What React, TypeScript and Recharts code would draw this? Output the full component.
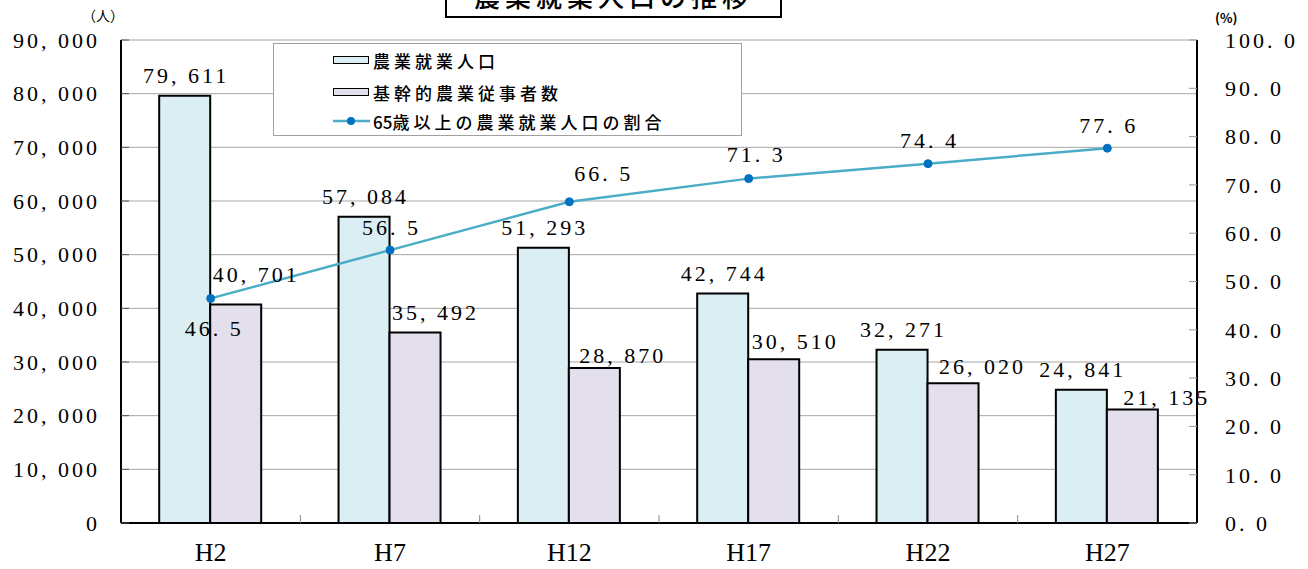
import React from "react";
import {
  ComposedChart,
  Bar,
  Line,
  XAxis,
  YAxis,
  CartesianGrid,
  LabelList,
  Legend,
} from "recharts";

const categories = ["H2", "H7", "H12", "H17", "H22", "H27"];
const farmWorkers = [79611, 57084, 51293, 42744, 32271, 24841];
const coreFarmers = [40701, 35492, 28870, 30510, 26020, 21135];
const elderlyShare = [46.5, 56.5, 66.5, 71.3, 74.4, 77.6];
const leftTicks = [0, 10000, 20000, 30000, 40000, 50000, 60000, 70000, 80000, 90000];
const rightTicks = [0, 10, 20, 30, 40, 50, 60, 70, 80, 90, 100];

const seriesNames = ["農業就業人口", "基幹的農業従事者数", "65歳以上の農業就業人口の割合"];

// label placement nudges (style only): [dx, dy]
const coreLabelNudge = [
  [19, -30], [19, -20], [27, -13], [20, -18], [28, -17], [33, -12],
];
const shareLabelNudge = [
  [2, 30], [0, -23], [33, -28], [6, -24], [0, -23], [0, -23],
];

const data = categories.map((c, i) => ({
  cat: c,
  farm: farmWorkers[i],
  core: coreFarmers[i],
  share: elderlyShare[i],
}));

const SERIF = "'Liberation Serif', 'DejaVu Serif', serif";
const CJK = "'Noto Sans CJK JP', 'Noto Sans', sans-serif";
const BLUE_FILL = "#DAEEF3";
const LAV_FILL = "#E4DFEC";
const LINE = "#4BACC6";
const DOT = "#0070C0";

const fmtInt = (v: number) => v.toLocaleString("en-US").replace(",", ", ");
const fmtDec = (v: number) => v.toFixed(1).replace(".", ". ");

const numStyle = { fontFamily: SERIF, fontSize: 22, letterSpacing: 3, fill: "#000" };

const FarmLabel = (p: any) => {
  const { x, y, width, value } = p;
  return (
    <text x={x + width / 2 + 1.5} y={y - 20} textAnchor="middle" dominantBaseline="central" style={numStyle}>
      {fmtInt(value)}
    </text>
  );
};

const CoreLabel = (p: any) => {
  const { x, y, width, value, index } = p;
  const [dx, dy] = coreLabelNudge[index];
  return (
    <text x={x + width / 2 + dx + 1.5} y={y + dy} textAnchor="middle" dominantBaseline="central" style={numStyle}>
      {fmtInt(value)}
    </text>
  );
};

const ShareLabel = (p: any) => {
  const { x, y, value, index } = p;
  const [dx, dy] = shareLabelNudge[index];
  return (
    <text x={x + dx + 1.5} y={y + dy} textAnchor="middle" dominantBaseline="central" style={numStyle}>
      {fmtDec(value)}
    </text>
  );
};

const XTick = (p: any) => {
  const { x, y, payload, index } = p;
  const off = payload && payload.offset ? payload.offset : 0;
  return (
    <g>
      <text
        x={x}
        y={y + 29}
        textAnchor="middle"
        dominantBaseline="central"
        style={{ fontFamily: SERIF, fontSize: 26, fill: "#000" }}
      >
        {payload.value}
      </text>
      {index < categories.length - 1 && (
        <line x1={x + off} x2={x + off} y1={y} y2={y - 8} stroke="#888" strokeWidth={1} />
      )}
    </g>
  );
};

const legendLabel = (n: string) => {
  const m = n.match(/^(\d+)(.*)$/);
  if (!m) return <span>{n}</span>;
  return (
    <span>
      <span style={{ letterSpacing: 0 }}>{m[1]}</span>
      {m[2]}
    </span>
  );
};

const LegendBox = () => (
  <div
    style={{
      position: "absolute",
      left: 273,
      top: 43,
      width: 467,
      height: 91,
      border: "1px solid #A0A0A0",
      background: "#fff",
      fontFamily: CJK,
      fontSize: 17,
      fontWeight: 500,
      letterSpacing: 4,
      color: "#000",
    }}
  >
    {seriesNames.map((n, i) => (
      <div
        key={n}
        style={{
          position: "absolute",
          left: 59,
          top: [16, 48, 77][i] - 12,
          height: 24,
          display: "flex",
          alignItems: "center",
          whiteSpace: "nowrap",
        }}
      >
        {i < 2 ? (
          <div
            style={{
              width: 34,
              height: 6,
              border: "1.5px solid #000",
              background: i === 0 ? BLUE_FILL : LAV_FILL,
              marginRight: 4,
            }}
          />
        ) : (
          <svg width={37} height={12} style={{ marginRight: 3 }}>
            <line x1={0} x2={37} y1={6} y2={6} stroke={LINE} strokeWidth={2.5} />
            <circle cx={18} cy={6} r={4} fill={DOT} />
          </svg>
        )}
        {legendLabel(n)}
      </div>
    ))}
  </div>
);

export default function App() {
  return (
    <div
      style={{
        position: "absolute",
        left: 0,
        top: 0,
        width: 1308,
        height: 569,
        overflow: "hidden",
        background: "#fff",
      }}
    >
      <ComposedChart
        width={1308}
        height={569}
        data={data}
        margin={{ top: 40, right: 0, bottom: 0, left: 0 }}
        barCategoryGap="21.3%"
        barGap={0}
      >
        <CartesianGrid vertical={false} stroke="#A6A6A6" strokeWidth={1} yAxisId="left" />
        <XAxis
          dataKey="cat"
          height={46}
          axisLine={{ stroke: "#000", strokeWidth: 2 }}
          tickLine={false}
          tickSize={0}
          tickMargin={0}
          tick={<XTick />}
          interval={0}
        />
        <YAxis
          yAxisId="left"
          width={121}
          domain={[0, 90000]}
          ticks={leftTicks}
          interval={0}
          tickFormatter={fmtInt}
          axisLine={{ stroke: "#000", strokeWidth: 2 }}
          tickLine={{ stroke: "#555" }}
          tickSize={-8}
          tickMargin={29}
          tick={{ ...numStyle }}
        />
        <YAxis
          yAxisId="right"
          orientation="right"
          width={111}
          domain={[0, 100]}
          ticks={rightTicks}
          interval={0}
          tickFormatter={fmtDec}
          axisLine={{ stroke: "#000", strokeWidth: 2 }}
          tickLine={{ stroke: "#999" }}
          tickSize={-8}
          tickMargin={36}
          tick={{ ...numStyle }}
        />
        <Legend content={() => null} />
        <Bar
          yAxisId="left"
          dataKey="farm"
          name={seriesNames[0]}
          fill={BLUE_FILL}
          stroke="#000"
          strokeWidth={2}
          isAnimationActive={false}
        >
          <LabelList dataKey="farm" content={<FarmLabel />} />
        </Bar>
        <Bar
          yAxisId="left"
          dataKey="core"
          name={seriesNames[1]}
          fill={LAV_FILL}
          stroke="#000"
          strokeWidth={2}
          isAnimationActive={false}
        >
          <LabelList dataKey="core" content={<CoreLabel />} />
        </Bar>
        <Line
          yAxisId="right"
          dataKey="share"
          name={seriesNames[2]}
          stroke={LINE}
          strokeWidth={2.5}
          dot={{ r: 4, fill: DOT, stroke: DOT, strokeWidth: 1 }}
          isAnimationActive={false}
        >
          <LabelList dataKey="share" content={<ShareLabel />} />
        </Line>
      </ComposedChart>
      <LegendBox />
      <div
        style={{
          position: "absolute",
          left: 445,
          top: -28,
          width: 333,
          height: 42,
          border: "2px solid #000",
          background: "#fff",
          display: "flex",
          alignItems: "center",
          justifyContent: "center",
          fontFamily: CJK,
          fontSize: 26,
          fontWeight: 500,
          letterSpacing: 5,
          color: "#000",
          whiteSpace: "nowrap",
        }}
      >
        農業就業人口の推移
      </div>
      <div
        style={{
          position: "absolute",
          left: 82,
          top: 5,
          fontFamily: CJK,
          fontSize: 14,
          lineHeight: "20px",
          color: "#000",
        }}
      >
        （人）
      </div>
      <div
        style={{
          position: "absolute",
          left: 1215,
          top: 8,
          fontFamily: CJK,
          fontSize: 13,
          fontWeight: 700,
          lineHeight: "20px",
          color: "#000",
        }}
      >
        (%)
      </div>
    </div>
  );
}
